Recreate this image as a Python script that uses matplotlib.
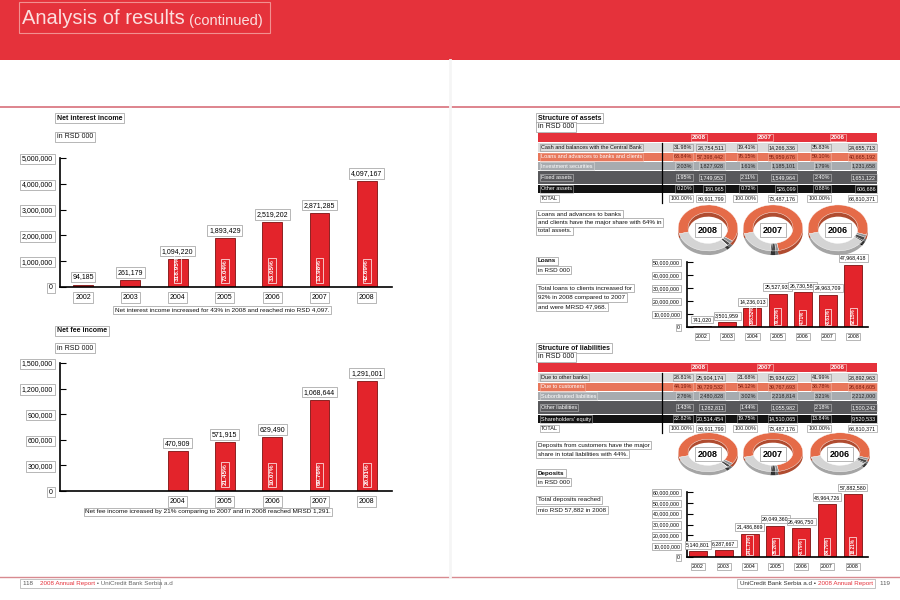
import matplotlib
matplotlib.use("Agg")
import matplotlib.pyplot as plt
from matplotlib.patches import Rectangle

plt.rcParams['font.family'] = ['Liberation Sans', 'DejaVu Sans']

W, H = 900, 600

years = ['2002', '2003', '2004', '2005', '2006', '2007', '2008']

nii_values = [94185, 261179, 1094220, 1893429, 2519202, 2871285, 4097167]
nii_growth = ['', '', '318.95%', '73.04%', '33.05%', '13.98%', '42.69%']
nii_ticks = [0, 1000000, 2000000, 3000000, 4000000, 5000000]

fee_years = ['2004', '2005', '2006', '2007', '2008']
fee_values = [470909, 571915, 629490, 1068644, 1291001]
fee_growth = ['', '21.45%', '10.07%', '69.76%', '20.81%']
fee_ticks = [0, 300000, 600000, 900000, 1200000, 1500000]

loan_values = [741020, 3501959, 14236013, 25527937, 26730582, 24963709, 47968418]
loan_growth = ['', '', '306.52%', '79.32%', '4.71%', '-6.61%', '92.15%']
loan_ticks = [0, 10000000, 20000000, 30000000, 40000000, 50000000]

dep_values = [5140801, 6287667, 21486869, 29049360, 26496750, 48964726, 57882580]
dep_growth = ['', '', '241.73%', '35.20%', '-8.79%', '84.79%', '18.21%']
dep_ticks = [0, 10000000, 20000000, 30000000, 40000000, 50000000, 60000000]

table_years = ['2008', '2007', '2006']

asset_rows = ['Cash and balances with the Central Bank', 'Loans and advances to banks and clients',
              'Investment securities', 'Fixed assets', 'Other assets', 'TOTAL']
asset_pct_2008 = ['31.98%', '63.84%', '2.03%', '1.95%', '0.20%', '100.00%']
asset_val_2008 = ['28,754,511', '57,398,442', '1,827,928', '1,749,953', '180,965', '89,911,799']
asset_pct_2007 = ['19.41%', '76.15%', '1.61%', '2.11%', '0.72%', '100.00%']
asset_val_2007 = ['14,266,336', '55,959,676', '1,185,101', '1,549,964', '526,099', '73,487,176']
asset_pct_2006 = ['35.83%', '59.10%', '1.79%', '2.40%', '0.88%', '100.00%']
asset_val_2006 = ['24,655,713', '40,665,192', '1,231,658', '1,651,122', '606,686', '68,810,371']

liab_rows = ['Due to other banks', 'Due to customers', 'Subordinated liabilities',
             'Other liabilities', "Shareholders' equity", 'TOTAL']
liab_pct_2008 = ['28.81%', '44.19%', '2.76%', '1.43%', '22.82%', '100.00%']
liab_val_2008 = ['25,904,174', '39,729,532', '2,480,828', '1,282,811', '20,514,454', '89,911,799']
liab_pct_2007 = ['21.68%', '54.12%', '3.02%', '1.44%', '19.75%', '100.00%']
liab_val_2007 = ['15,934,622', '39,767,693', '2,218,814', '1,055,982', '14,510,065', '73,487,176']
liab_pct_2006 = ['41.99%', '38.78%', '3.21%', '2.18%', '13.84%', '100.00%']
liab_val_2006 = ['28,892,963', '26,684,605', '2,212,000', '1,500,242', '9,520,533', '68,810,371']

RED = '#e3242b'
BOX = dict(boxstyle='square,pad=0.25', fc='white', ec='#9a9a9a', lw=0.5)

fig = plt.figure(figsize=(9, 6), dpi=100)
bg = fig.add_axes([0, 0, 1, 1])
bg.set_xlim(0, W)
bg.set_ylim(H, 0)
bg.axis('off')


def label(x, y, s, fs=5, weight='normal', color='#111', ha='left', ec='#9a9a9a', fc='white'):
    return bg.text(x, y, s, fontsize=fs, fontweight=weight, color=color, ha=ha, va='center',
                   bbox=dict(boxstyle='square,pad=0.25', fc=fc, ec=ec, lw=0.5))


# banner and rules
bg.add_patch(Rectangle((0, 0), W, 60, color='#e5323b', lw=0))
bg.add_patch(Rectangle((19, 2), 251, 31, fill=False, ec='#f29090', lw=0.8))
t = bg.text(22, 18, 'Analysis of results', fontsize=14.5, color='#fbdede', va='center')
bg.annotate(' (continued)', xy=(1, 0), xycoords=t, va='bottom', fontsize=10.5, color='#fbdede')
bg.plot([0, W], [107, 107], color='#d8707a', lw=1.2)
bg.plot([0, W], [577, 577], color='#d88a90', lw=1.0)
bg.plot([450, 450], [60, 577], color='#f5f5f5', lw=2)


def bar_chart(left, top, right, base, labels, pos, values, growth, ticks, xlim, width, fs, gfs, goff):
    ax = fig.add_axes([left / W, 1 - base / H, (right - left) / W, (base - top) / H])
    ax.bar(pos, values, width=width, color=RED, edgecolor='#7d1010', linewidth=0.6, zorder=2)
    ax.set_xlim(*xlim)
    ax.set_ylim(0, ticks[-1])
    ax.set_yticks(ticks, [f"{v:,}" for v in ticks])
    ax.set_xticks(pos, labels)
    ax.tick_params(axis='y', direction='in', length=4, width=0.8, pad=5, labelsize=fs)
    ax.tick_params(axis='x', length=0, pad=5, labelsize=fs)
    for tl in ax.get_yticklabels() + ax.get_xticklabels():
        tl.set_bbox(BOX)
    for s in ['top', 'right']:
        ax.spines[s].set_visible(False)
    ax.spines['left'].set_linewidth(1.2)
    ax.spines['bottom'].set_linewidth(1.2)
    ax.patch.set_alpha(0)
    for p, v, g in zip(pos, values, growth):
        ax.annotate(f"{v:,}", (p, v), xytext=(0, 3), textcoords='offset points', ha='center',
                    va='bottom', fontsize=fs, bbox=BOX)
        if g:
            ax.annotate(g, (p, 0), xytext=(0, goff), textcoords='offset points', rotation=90,
                        ha='center', va='bottom', color='white', fontsize=gfs, fontweight='bold',
                        bbox=dict(boxstyle='square,pad=0.2', fc='none', ec='white', lw=0.5))
    return ax


# ---- left page ----
label(57, 118, 'Net interest income', weight='bold')
label(57, 137, 'in RSD 000')
bar_chart(60, 158, 392, 287, years, list(range(7)), nii_values, nii_growth, nii_ticks,
          (-0.486, 6.533), 0.42, 5, 4.6, 4)
label(222, 310, 'Net interest income increased for 43% in 2008 and reached mio RSD 4,097.',
      fs=4.6, ha='center')

label(57, 331, 'Net fee income', weight='bold')
label(57, 348, 'in RSD 000')
bar_chart(60, 363, 392, 491, fee_years, [2, 3, 4, 5, 6], fee_values, fee_growth, fee_ticks,
          (-0.486, 6.533), 0.42, 5, 4.6, 4)
label(208, 512, 'Net fee income icreased by 21% comparing to 2007 and in 2008 reached MRSD 1,291.',
      fs=4.6, ha='center')


# ---- right page tables ----
row_spans = [(143, 152), (153, 161), (162, 170), (171, 184), (185, 193), (194, 203)]
row_fill = ['#dcdcdc', '#e8765a', '#a7abaf', '#58585b', '#121212', 'white']
label_col = ['#111', 'white', 'white', 'white', 'white', '#111']
value_col = ['#111', '#7a1a0c', '#222', 'white', 'white', '#111']
edge_col = ['#8a8a8a', '#f0b0a0', '#d8d8d8', '#c0c0c0', '#aaaaaa', '#8a8a8a']
pct_x = [692, 756, 830]
val_x = [724, 796, 876]
head_x = [699, 765, 838]


def draw_table(dy, title, rows, pcts, vals):
    label(538, 118 + dy, title, weight='bold')
    label(538, 127 + dy, 'in RSD 000')
    bg.add_patch(Rectangle((538, 133 + dy), 339, 9, color='#e5323b', lw=0))
    for x, yr in zip(head_x, table_years):
        bg.text(x, 137.5 + dy, yr, fontsize=4.5, fontweight='bold', color='white', ha='center',
                va='center', bbox=dict(boxstyle='square,pad=0.2', fc='none', ec='#f6b0b0', lw=0.5))
    for i, (r0, r1) in enumerate(row_spans):
        bg.add_patch(Rectangle((538, r0 + dy), 339, r1 - r0, color=row_fill[i], lw=0))
        yc = (r0 + r1) / 2 + dy
        bd = dict(boxstyle='square,pad=0.2', fc='none', ec=edge_col[i], lw=0.4)
        bg.text(541, yc, rows[i], fontsize=4.0, color=label_col[i], va='center', bbox=bd)
        for j in range(3):
            bg.text(pct_x[j], yc, pcts[j][i], fontsize=3.9, color=value_col[i], ha='right',
                    va='center', bbox=bd)
            bg.text(val_x[j], yc, vals[j][i], fontsize=3.9, color=value_col[i], ha='right',
                    va='center', bbox=bd)
    bg.plot([662, 662], [143 + dy, 203 + dy], color='black', lw=0.9)


draw_table(0, 'Structure of assets', asset_rows,
           [asset_pct_2008, asset_pct_2007, asset_pct_2006],
           [asset_val_2008, asset_val_2007, asset_val_2006])
draw_table(230, 'Structure of liabilities', liab_rows,
           [liab_pct_2008, liab_pct_2007, liab_pct_2006],
           [liab_val_2008, liab_val_2007, liab_val_2006])


# ---- donuts (share of the largest item in total) ----
ring_cols = ['#e56b48', '#8e9194', '#4a4a4a', '#151515', '#d4d4d4']
ring_side = ['#b04c30', '#6a6c6e', '#333333', '#0a0a0a', '#a5a5a5']


def donut(cx, cy, w, h, pcts, year):
    # order: loans, securities, fixed, other, cash
    shares = [float(pcts[k].rstrip('%')) for k in (1, 2, 3, 4, 0)]
    ax = fig.add_axes([(cx - w / 2) / W, 1 - (cy + h / 2) / H, w / W, h / H])
    ax.pie(shares, colors=ring_side, startangle=195, counterclock=False, radius=1,
           center=(0, -0.18), wedgeprops=dict(width=0.33, lw=0))
    ax.pie(shares, colors=ring_cols, startangle=195, counterclock=False, radius=1,
           center=(0, 0), wedgeprops=dict(width=0.33, ec='white', lw=0.3))
    ax.set_aspect('auto')
    ax.set_xlim(-1.04, 1.04)
    ax.set_ylim(-1.22, 1.04)
    ax.axis('off')
    ax.text(0, -0.1, year, ha='center', va='center', fontsize=6.5, fontweight='bold',
            bbox=dict(boxstyle='square,pad=0.3', fc='white', ec='#9a9a9a', lw=0.5))


asset_pcts = [asset_pct_2008, asset_pct_2007, asset_pct_2006]
for cx, p, yr in zip([708, 773, 838], asset_pcts, table_years):
    donut(cx, 230, 62, 52, p, yr)
for cx, p, yr in zip([708, 773, 840], asset_pcts, table_years):
    donut(cx, 454, 62, 44, p, yr)

for k, s in enumerate(['Loans and advances to banks', 'and clients have the major share with 64% in',
                       'total assets.']):
    label(538, 214 + 8.5 * k, s, fs=4.5)
for k, s in enumerate(['Deposits from customers have the major', 'share in total liabilities with 44%.']):
    label(538, 445 + 9 * k, s, fs=4.5)

# ---- loans ----
label(538, 261, 'Loans', fs=4.5, weight='bold')
label(538, 270, 'in RSD 000', fs=4.5)
for k, s in enumerate(['Total loans to clients increased for', '92% in 2008 compared to 2007',
                       'and were MRSD 47,968.']):
    label(538, 288 + 9.5 * k, s, fs=4.5)
bar_chart(687, 262, 868, 327, years, list(range(7)), loan_values, loan_growth, loan_ticks,
          (-0.595, 6.587), 0.71, 3.8, 3.3, 2)

# ---- deposits ----
label(538, 473, 'Deposits', fs=4.5, weight='bold')
label(538, 482, 'in RSD 000', fs=4.5)
for k, s in enumerate(['Total deposits reached', 'mio RSD 57,882 in 2008']):
    label(538, 500 + 10 * k, s, fs=4.5)
bar_chart(687, 492, 868, 557, years, list(range(7)), dep_values, dep_growth, dep_ticks,
          (-0.426, 6.589), 0.7, 3.8, 3.3, 2)

# ---- footer ----
bg.add_patch(Rectangle((20, 579), 140, 9, fill=False, ec='#aaaaaa', lw=0.5))
t = bg.text(23, 583.5, '118    ', fontsize=4.5, color='#555', va='center')
t = bg.annotate('2008 Annual Report', xy=(1, 0), xycoords=t, va='bottom', fontsize=4.5, color='#e5323b')
bg.annotate(' \u2022 UniCredit Bank Serbia a.d', xy=(1, 0), xycoords=t, va='bottom', fontsize=4.5, color='#666')

bg.add_patch(Rectangle((737, 579), 138, 9, fill=False, ec='#aaaaaa', lw=0.5))
t = bg.text(740, 583.5, 'UniCredit Bank Serbia a.d \u2022 ', fontsize=4.5, color='#333', va='center')
t = bg.annotate('2008 Annual Report', xy=(1, 0), xycoords=t, va='bottom', fontsize=4.5, color='#e5323b')
bg.annotate('    119', xy=(1, 0), xycoords=t, va='bottom', fontsize=4.5, color='#555')

fig.savefig('out.png', dpi=100)
